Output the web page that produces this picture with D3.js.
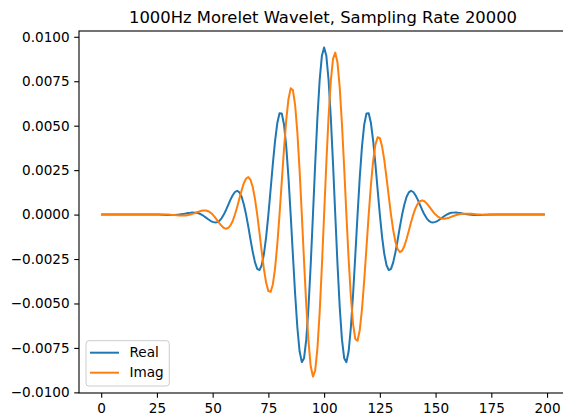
<!DOCTYPE html>
<html lang="en">
<head>
<meta charset="UTF-8">
<title>Morelet Wavelet</title>
<script src="https://cdnjs.cloudflare.com/ajax/libs/d3/7.8.5/d3.min.js"></script>
<style>
  body { margin: 0; background: #fff; overflow: hidden; }
  svg { display: block; font-family: "DejaVu Sans", sans-serif; }
</style>
</head>
<body>
<svg id="chart" width="563" height="418"></svg>
<script>
// wavelet samples, index 0..199
const realVals = [
  0,0,0,0,0,0,0,0,0,0,
  0,0,0,0,0,0,0,0,0,0,
  0,0,0,0,0,0,0,-0.00001,-0.00001,-0.00002,
  -0.00002,-0.00002,-0.00002,-0.00002,-0.00001,0,0.00002,0.00004,0.00006,0.00009,
  0.0001,0.00012,0.00011,0.0001,0.00006,0,-0.00008,-0.00017,-0.00026,-0.00035,
  -0.00041,-0.00044,-0.00043,-0.00035,-0.00021,0,0.00026,0.00055,0.00084,0.00109,
  0.00127,0.00134,0.00125,0.001,0.00057,0,-0.00068,-0.00142,-0.00211,-0.00269,
  -0.00305,-0.00312,-0.00285,-0.00222,-0.00125,0,0.00141,0.00285,0.00415,0.00515,
  0.0057,0.00569,0.00507,0.00385,0.00211,0,-0.00227,-0.00447,-0.00635,-0.00769,
  -0.0083,-0.00808,-0.00702,-0.0052,-0.00278,0,0.00285,0.00546,0.00757,0.00893,
  0.0094,0.00893,0.00757,0.00546,0.00285,0,-0.00278,-0.0052,-0.00702,-0.00808,
  -0.0083,-0.00769,-0.00635,-0.00447,-0.00227,0,0.00211,0.00385,0.00507,0.00569,
  0.0057,0.00515,0.00415,0.00285,0.00141,0,-0.00125,-0.00222,-0.00285,-0.00312,
  -0.00305,-0.00269,-0.00211,-0.00142,-0.00068,0,0.00057,0.001,0.00125,0.00134,
  0.00127,0.00109,0.00084,0.00055,0.00026,0,-0.00021,-0.00035,-0.00043,-0.00044,
  -0.00041,-0.00035,-0.00026,-0.00017,-0.00008,0,0.00006,0.0001,0.00011,0.00012,
  0.0001,0.00009,0.00006,0.00004,0.00002,0,-0.00001,-0.00002,-0.00002,-0.00002,
  -0.00002,-0.00002,-0.00001,-0.00001,0,0,0,0,0,0,
  0,0,0,0,0,0,0,0,0,0,
  0,0,0,0,0,0,0,0,0,0
];
const imagVals = [
  0,0,0,0,0,0,0,0,0,0,
  0,0,0,0,0,0,0,0,0,0,
  0,0,0,0,0.00001,0.00001,0.00001,0.00001,0.00001,0.00001,
  0,-0.00001,-0.00002,-0.00003,-0.00004,-0.00005,-0.00005,-0.00005,-0.00005,-0.00003,
  0,0.00004,0.00008,0.00013,0.00018,0.00021,0.00023,0.00023,0.00019,0.00011,
  0,-0.00014,-0.00031,-0.00048,-0.00063,-0.00075,-0.0008,-0.00075,-0.00061,-0.00036,
  0,0.00043,0.00091,0.00137,0.00177,0.00203,0.00211,0.00195,0.00154,0.00087,
  0,-0.00102,-0.00207,-0.00306,-0.00384,-0.0043,-0.00435,-0.00393,-0.00302,-0.00167,
  0,0.00185,0.00369,0.0053,0.00649,0.0071,0.007,0.00616,0.00462,0.0025,
  0,-0.00263,-0.0051,-0.00715,-0.00855,-0.00911,-0.00876,-0.00752,-0.0055,-0.0029,
  0,0.0029,0.0055,0.00752,0.00876,0.00911,0.00855,0.00715,0.0051,0.00263,
  0,-0.0025,-0.00462,-0.00616,-0.007,-0.0071,-0.00649,-0.0053,-0.00369,-0.00185,
  0,0.00167,0.00302,0.00393,0.00435,0.0043,0.00384,0.00306,0.00207,0.00102,
  0,-0.00087,-0.00154,-0.00195,-0.00211,-0.00203,-0.00177,-0.00137,-0.00091,-0.00043,
  0,0.00036,0.00061,0.00075,0.0008,0.00075,0.00063,0.00048,0.00031,0.00014,
  0,-0.00011,-0.00019,-0.00023,-0.00023,-0.00021,-0.00018,-0.00013,-0.00008,-0.00004,
  0,0.00003,0.00005,0.00005,0.00005,0.00005,0.00004,0.00003,0.00002,0.00001,
  0,-0.00001,-0.00001,-0.00001,-0.00001,-0.00001,-0.00001,0,0,0,
  0,0,0,0,0,0,0,0,0,0,
  0,0,0,0,0,0,0,0,0,0
];
const seriesNames = ["Real", "Imag"];
const xTicks = [0, 25, 50, 75, 100, 125, 150, 175, 200];
const yTicks = [-0.01, -0.0075, -0.005, -0.0025, 0, 0.0025, 0.005, 0.0075, 0.01];
const chartTitle = "1000Hz Morelet Wavelet, Sampling Rate 20000";

const colors = ["#1f77b4", "#ff7f0e"];
const series = [realVals, imagVals];

// axes box (right spine falls just past the picture edge)
const axL = 79, axT = 31, axW = 488, axH = 362;
const svg = d3.select("#chart");

// matplotlib-like 5% margins
const xExt = [0, realVals.length - 1];
const xPad = (xExt[1] - xExt[0]) * 0.05;
const yExt = d3.extent(realVals.concat(imagVals));
const yPad = (yExt[1] - yExt[0]) * 0.05;

const x = d3.scaleLinear().domain([xExt[0] - xPad, xExt[1] + xPad]).range([axL, axL + axW]);
const y = d3.scaleLinear().domain([yExt[0] - yPad, yExt[1] + yPad]).range([axT + axH, axT]);

const fs = 13.6;

// lines
const line = d3.line().x((d, i) => x(i)).y(d => y(d));
svg.append("g").selectAll("path")
  .data(series)
  .join("path")
  .attr("d", line)
  .attr("fill", "none")
  .attr("stroke", (d, i) => colors[i])
  .attr("stroke-width", 2)
  .attr("stroke-linejoin", "round");

// x axis
const xAxis = svg.append("g")
  .attr("transform", `translate(0,${axT + axH})`)
  .call(d3.axisBottom(x).tickValues(xTicks).tickSize(4.8).tickPadding(5.5).tickSizeOuter(0));
xAxis.select(".domain").remove();
xAxis.selectAll("text").attr("font-size", fs).attr("font-family", "DejaVu Sans").attr("fill", "#000");
xAxis.selectAll("line").attr("stroke", "#000").attr("stroke-width", 1.1);

// y axis
const yAxis = svg.append("g")
  .attr("transform", `translate(${axL},0)`)
  .call(d3.axisLeft(y).tickValues(yTicks).tickFormat(d3.format(".4f")).tickSize(4.8).tickPadding(4.6).tickSizeOuter(0));
yAxis.select(".domain").remove();
yAxis.selectAll("text").attr("font-size", fs).attr("font-family", "DejaVu Sans").attr("fill", "#000");
yAxis.selectAll("line").attr("stroke", "#000").attr("stroke-width", 1.1);

// spines
svg.append("rect")
  .attr("x", axL).attr("y", axT)
  .attr("width", axW).attr("height", axH)
  .attr("fill", "none").attr("stroke", "#000").attr("stroke-width", 1.1);

// title
svg.append("text")
  .attr("x", axL + axW / 2).attr("y", 22.5)
  .attr("text-anchor", "middle")
  .attr("font-size", 16.4)
  .attr("fill", "#000")
  .text(chartTitle);

// legend
const lg = svg.append("g").attr("transform", "translate(86,340.7)");
lg.append("rect")
  .attr("width", 83.3).attr("height", 45.3)
  .attr("rx", 3)
  .attr("fill", "#fff").attr("fill-opacity", 0.8)
  .attr("stroke", "#ccc").attr("stroke-width", 1);
seriesNames.forEach((name, i) => {
  const row = lg.append("g").attr("transform", `translate(0,${12 + i * 20})`);
  row.append("line")
    .attr("x1", 4).attr("x2", 33)
    .attr("stroke", colors[i]).attr("stroke-width", 2);
  row.append("text")
    .attr("x", 43.5).attr("dy", "0.35em")
    .attr("font-size", fs).attr("fill", "#000")
    .text(name);
});
</script>
</body>
</html>
